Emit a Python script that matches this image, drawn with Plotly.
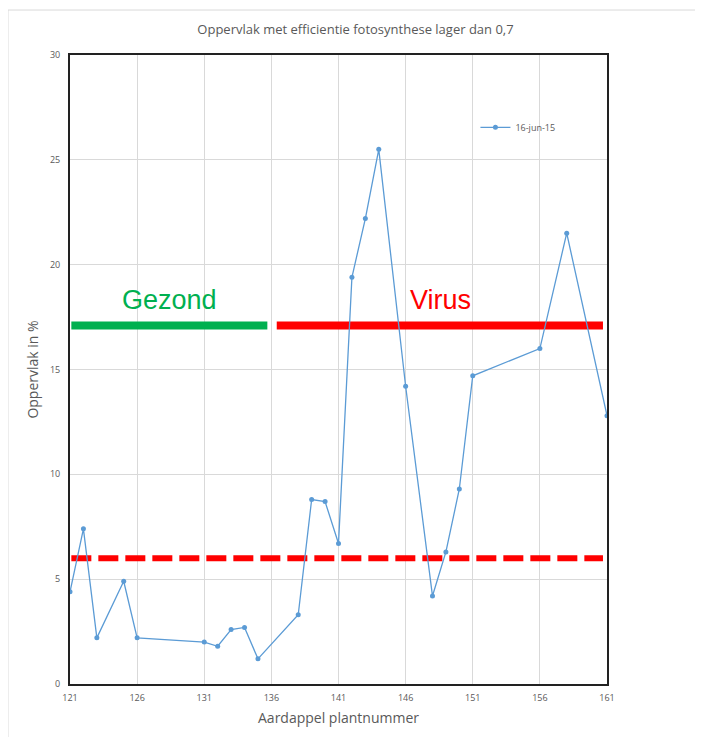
import plotly.graph_objects as go

# Data
plant_nr = [121, 122, 123, 125, 126, 131, 132, 133, 134, 135, 138, 139, 140, 141,
            142, 143, 144, 146, 148, 149, 150, 151, 156, 158, 161]
oppervlak = [4.4, 7.4, 2.2, 4.9, 2.2, 2.0, 1.8, 2.6, 2.7, 1.2, 3.3, 8.8, 8.7, 6.7,
             19.4, 22.2, 25.5, 14.2, 4.2, 6.3, 9.3, 14.7, 16.0, 21.5, 12.8]
series_name = "16-jun-15"

gezond_x = [121.1, 135.7]
gezond_y = [17.1, 17.1]
virus_x = [136.4, 160.7]
virus_y = [17.1, 17.1]
drempel_x = [121.1, 160.7]
drempel_y = [6.0, 6.0]

x_ticks = [121, 126, 131, 136, 141, 146, 151, 156, 161]
y_ticks = [0, 5, 10, 15, 20, 25, 30]

label_gezond = ("Gezond", 128.4, 17.5)
label_virus = ("Virus", 148.6, 17.5)

fig = go.Figure()

fig.add_trace(go.Scatter(x=gezond_x, y=gezond_y, mode="lines",
                         line=dict(color="#00b050", width=8), showlegend=False,
                         hoverinfo="skip"))
fig.add_trace(go.Scatter(x=virus_x, y=virus_y, mode="lines",
                         line=dict(color="#ff0000", width=8), showlegend=False,
                         hoverinfo="skip"))
fig.add_trace(go.Scatter(x=drempel_x, y=drempel_y, mode="lines",
                         line=dict(color="#ff0000", width=6, dash="20px,7px"),
                         showlegend=False, hoverinfo="skip"))
fig.add_trace(go.Scatter(x=plant_nr, y=oppervlak, mode="lines+markers",
                         name=series_name,
                         line=dict(color="#5b9bd5", width=1.3),
                         marker=dict(color="#5b9bd5", size=5)))

for txt, xx, yy in [label_gezond, label_virus]:
    col = "#00b050" if txt == "Gezond" else "#ff0000"
    fig.add_annotation(x=xx, y=yy, text=txt, showarrow=False,
                       font=dict(family="Liberation Sans, Arial", size=27, color=col),
                       xanchor="center", yanchor="bottom")

fig.update_layout(
    width=695, height=729,
    margin=dict(l=62, r=96, t=47, b=53),
    paper_bgcolor="white", plot_bgcolor="white",
    font=dict(family="Open Sans, Calibri, sans-serif", color="#595959"),
    title=dict(text="Oppervlak met efficientie fotosynthese lager dan 0,7",
               x=0.5, xanchor="center", y=0.97, yanchor="middle",
               font=dict(size=13, color="#595959")),
    legend=dict(x=0.755, y=0.885, xanchor="left", yanchor="middle",
                bgcolor="rgba(0,0,0,0)", font=dict(size=9, color="#595959"),
                itemwidth=30),
    shapes=[dict(type="rect", xref="paper", yref="paper",
                 x0=-0.1155, x1=1.3, y0=-0.3, y1=1.0715,
                 line=dict(color="#d9d9d9", width=1), layer="below")],
)
fig.update_xaxes(range=[121, 161], tickvals=x_ticks, showgrid=True,
                 gridcolor="#d9d9d9", gridwidth=1, zeroline=False,
                 showline=True, linecolor="#222222", linewidth=2, mirror=True,
                 tickfont=dict(size=9, color="#595959"), ticks="",
                 ticklabelstandoff=4,
                 title=dict(text="Aardappel plantnummer",
                            font=dict(size=14, color="#595959"), standoff=10))
fig.update_yaxes(range=[0, 30], tickvals=y_ticks, showgrid=True,
                 gridcolor="#d9d9d9", gridwidth=1, zeroline=False,
                 showline=True, linecolor="#222222", linewidth=2, mirror=True,
                 tickfont=dict(size=9, color="#595959"), ticks="",
                 ticklabelstandoff=6,
                 title=dict(text="Oppervlak in %",
                            font=dict(size=14, color="#595959"), standoff=8))

fig.write_html("out.html")
